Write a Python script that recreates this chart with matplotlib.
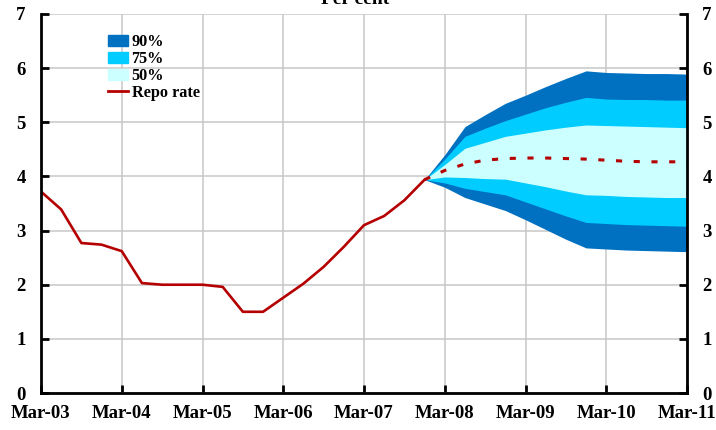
import numpy as np
import matplotlib
matplotlib.use("Agg")
import matplotlib.pyplot as plt
from matplotlib.patches import Patch
from matplotlib.lines import Line2D

# — Data (quarterly, index 0 = Mar-03) —
repo_hist = [3.72, 3.39, 2.77, 2.74, 2.62, 2.03, 2.00, 2.00, 2.00, 1.96,
             1.50, 1.50, 1.76, 2.02, 2.33, 2.70, 3.10, 3.27, 3.56, 3.94]
fc_median = [3.94, 4.11, 4.23, 4.30, 4.33, 4.34, 4.34, 4.33, 4.32, 4.30,
             4.28, 4.27, 4.27, 4.27]
hi90 = [3.94, 4.40, 4.92, 5.14, 5.35, 5.50, 5.66, 5.81, 5.95, 5.92, 5.91, 5.90, 5.90, 5.89]
hi75 = [3.94, 4.32, 4.74, 4.89, 5.03, 5.15, 5.27, 5.37, 5.46, 5.43, 5.42, 5.42, 5.41, 5.41]
hi50 = [3.94, 4.22, 4.52, 4.63, 4.74, 4.80, 4.86, 4.91, 4.95, 4.94, 4.93, 4.92, 4.91, 4.90]
lo50 = [3.94, 3.99, 3.98, 3.96, 3.95, 3.88, 3.81, 3.73, 3.66, 3.65, 3.63, 3.62, 3.61, 3.61]
lo75 = [3.94, 3.88, 3.78, 3.72, 3.66, 3.53, 3.40, 3.27, 3.15, 3.13, 3.11, 3.10, 3.09, 3.08]
lo90 = [3.94, 3.80, 3.61, 3.49, 3.37, 3.20, 3.02, 2.84, 2.68, 2.66, 2.64, 2.63, 2.62, 2.61]
year_labels = ["Mar-03", "Mar-04", "Mar-05", "Mar-06", "Mar-07",
               "Mar-08", "Mar-09", "Mar-10", "Mar-11"]

C90, C75, C50, CRED = "#0070C0", "#00CCFF", "#CCFFFF", "#B40000"

plt.rcParams["font.family"] = ["Liberation Serif", "DejaVu Serif"]
plt.rcParams["font.weight"] = "bold"

fig = plt.figure(figsize=(7.16, 4.30), dpi=100)
ax = fig.add_axes([41 / 716, 1 - 393 / 430, 646 / 716, 379 / 430])

x_hist = np.arange(len(repo_hist))
x_fc = np.arange(len(repo_hist) - 1, len(repo_hist) - 1 + len(fc_median))

ax.fill_between(x_fc, lo90, hi90, color=C90, lw=0, zorder=2)
ax.fill_between(x_fc, lo75, hi75, color=C75, lw=0, zorder=3)
ax.fill_between(x_fc, lo50, hi50, color=C50, lw=0, zorder=4)
ax.plot(x_hist, repo_hist, color=CRED, lw=1.9, zorder=5)
ax.plot(x_fc, fc_median, color=CRED, lw=2.2, dashes=(2.0, 3.8), zorder=5)

ax.set_xlim(0, 32)
ax.set_ylim(0, 7)
ax.set_xticks(np.arange(0, 33, 4))
ax.set_xticklabels(year_labels)
ax.set_yticks(range(8))
ax.grid(True, color="#C8C8C8", lw=1.1, zorder=0)
ax.set_axisbelow(True)

for s in ["left", "right", "bottom"]:
    ax.spines[s].set_linewidth(2.0)
    ax.spines[s].set_zorder(6)
ax.spines["top"].set_visible(False)
ax.tick_params(axis="both", direction="in", length=6, width=2, labelsize=13.5,
               right=True, labelright=True)
ax.tick_params(axis="x", pad=9)
ax.tick_params(axis="y", pad=11)

handles = [Patch(color=C90), Patch(color=C75), Patch(color=C50),
           Line2D([], [], color=CRED, lw=2)]
ax.legend(handles, ["90%", "75%", "50%", "Repo rate"], loc="upper left",
          bbox_to_anchor=(67 / 646, 0.946), frameon=False, borderpad=0, borderaxespad=0,
          prop={"size": 11.7, "weight": "bold"},
          handlelength=1.25, handleheight=0.7, handletextpad=0.2, labelspacing=0.05)

fig.text(355 / 716, 1 - 4 / 430, "Per cent", ha="center", va="baseline",
         fontsize=14, fontweight="bold")

fig.savefig("out.png", dpi=100)
